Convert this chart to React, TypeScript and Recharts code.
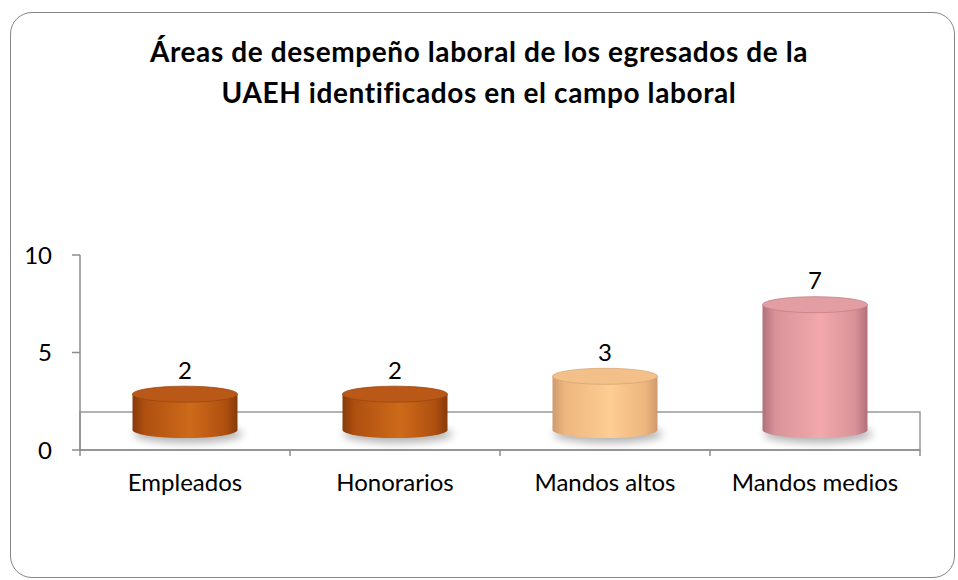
import React from "react";
import { BarChart, Bar, XAxis, YAxis, Cell, LabelList, ReferenceArea } from "recharts";

const categories = ["Empleados", "Honorarios", "Mandos altos", "Mandos medios"];
const values = [2, 2, 3, 7];
const yTicks = [0, 5, 10];
const titleLines = [
  "Áreas de desempeño laboral de los egresados de la",
  "UAEH identificados en el campo laboral",
];

const palettes = [
  { edge: "#873a0a", side: "#b05010", mid: "#cd6a1a", top: "#b95817", rim: "#9c4610" },
  { edge: "#873a0a", side: "#b05010", mid: "#cd6a1a", top: "#b95817", rim: "#9c4610" },
  { edge: "#cf9a6c", side: "#eeb67f", mid: "#fdcd94", top: "#f3c08a", rim: "#d9a474" },
  { edge: "#b0707a", side: "#d99398", mid: "#f2a8ad", top: "#e29ea3", rim: "#c47f85" },
];

const data = categories.map((c, i) => ({ name: c, value: values[i] }));

const W = 958;
const H = 580;
const M = { top: 255, right: 38, bottom: 90, left: 0 };
const Y_AXIS_W = 80;
const X_AXIS_H = 40;
const FONT = "Lato, 'Open Sans', sans-serif";
const AXIS_COLOR = "#8c8c8c";
const FLOOR_DEPTH = 1.95;
const BASE_LIFT = 20;
const PERSPECTIVE = 0.918;
const RY = 8;
const HALF_BAND = (W - M.right - Y_AXIS_W) / categories.length / 2;
const TICK_SIZE = 6;
const TICK_MARGIN = 18;

const geom = (y: number, height: number) => {
  const baseC = y + height - BASE_LIFT;
  const topC = baseC - height * PERSPECTIVE;
  return { baseC, topC };
};

const Cylinder = (props: any) => {
  const { x, y, width, height, index } = props;
  const p = palettes[index % palettes.length];
  const { baseC, topC } = geom(y, height);
  const rx = width / 2;
  const cx = x + rx;
  const gid = `cylg${index}`;
  const fid = `cyls${index}`;
  const body = `M ${x} ${topC} L ${x} ${baseC} A ${rx} ${RY} 0 0 0 ${x + width} ${baseC} L ${x + width} ${topC} Z`;
  return (
    <g>
      <defs>
        <linearGradient id={gid} x1="0" y1="0" x2="1" y2="0">
          <stop offset="0%" stopColor={p.edge} />
          <stop offset="12%" stopColor={p.side} />
          <stop offset="55%" stopColor={p.mid} />
          <stop offset="88%" stopColor={p.side} />
          <stop offset="100%" stopColor={p.edge} />
        </linearGradient>
        <filter id={fid} x="-30%" y="-100%" width="160%" height="300%">
          <feGaussianBlur stdDeviation="4" />
        </filter>
      </defs>
      <ellipse cx={cx + 3} cy={baseC + 4} rx={rx + 2} ry={RY + 1} fill="#000" opacity={0.3} filter={`url(#${fid})`} />
      <path d={body} fill={`url(#${gid})`} />
      <ellipse cx={cx} cy={topC} rx={rx} ry={RY} fill={p.top} stroke={p.rim} strokeWidth={0.8} />
    </g>
  );
};

const ValueLabel = (props: any) => {
  const { x, y, width, height, value } = props;
  const { topC } = geom(y, height);
  return (
    <text x={x + width / 2} y={topC - RY - 17} textAnchor="middle" dominantBaseline="central" fontSize={24} fontFamily={FONT} fill="#000">
      {value}
    </text>
  );
};

const XTick = (props: any) => {
  const { x, y, payload, index } = props;
  const half = payload && payload.offset ? payload.offset : HALF_BAND;
  const ay = y - TICK_MARGIN - TICK_SIZE;
  return (
    <g>
      <line x1={x - half} y1={ay} x2={x - half} y2={ay + TICK_SIZE} stroke={AXIS_COLOR} strokeWidth={1.5} />
      {index === categories.length - 1 && (
        <line x1={x + half} y1={ay} x2={x + half} y2={ay + TICK_SIZE} stroke={AXIS_COLOR} strokeWidth={1.5} />
      )}
      <text x={x} y={y} dy="0.71em" textAnchor="middle" fontSize={24} fontFamily={FONT} fill="#000">
        {payload.value}
      </text>
    </g>
  );
};

export default function App() {
  return (
    <div style={{ position: "absolute", left: 0, top: 0, width: W, height: H, background: "#fff" }}>
      <div
        style={{
          position: "absolute",
          left: 10,
          top: 12,
          width: 945,
          height: 566,
          boxSizing: "border-box",
          border: "1.5px solid #868686",
          borderRadius: 22,
        }}
      />
      <div
        style={{
          position: "absolute",
          left: 0,
          top: 31,
          width: W,
          textAlign: "center",
          fontFamily: FONT,
          fontWeight: 700,
          fontSize: 28,
          letterSpacing: "0.6px",
          lineHeight: "41px",
          color: "#000",
        }}
      >
        {titleLines.map((t) => (
          <div key={t}>{t}</div>
        ))}
      </div>
      <div style={{ position: "absolute", left: 0, top: 0 }}>
        <BarChart width={W} height={H} data={data} margin={M} barCategoryGap="25%">
          <ReferenceArea y1={0} y2={FLOOR_DEPTH} fill="none" stroke="#999" strokeWidth={1.5} ifOverflow="visible" />
          <XAxis
            dataKey="name"
            height={X_AXIS_H}
            axisLine={{ stroke: AXIS_COLOR, strokeWidth: 1.5 }}
            tickLine={false}
            tickSize={TICK_SIZE}
            tickMargin={TICK_MARGIN}
            tick={<XTick />}
            interval={0}
          />
          <YAxis
            width={Y_AXIS_W}
            domain={[0, 10]}
            ticks={yTicks}
            axisLine={{ stroke: AXIS_COLOR, strokeWidth: 1.5 }}
            tickLine={{ stroke: AXIS_COLOR, strokeWidth: 1.5 }}
            tickSize={8}
            tickMargin={20}
            tick={{ fontSize: 24, fontFamily: FONT, fill: "#000" }}
          />
          <Bar dataKey="value" shape={<Cylinder />} isAnimationActive={false}>
            {data.map((d, i) => (
              <Cell key={d.name} fill={palettes[i].mid} />
            ))}
            <LabelList dataKey="value" content={<ValueLabel />} />
          </Bar>
        </BarChart>
      </div>
    </div>
  );
}
